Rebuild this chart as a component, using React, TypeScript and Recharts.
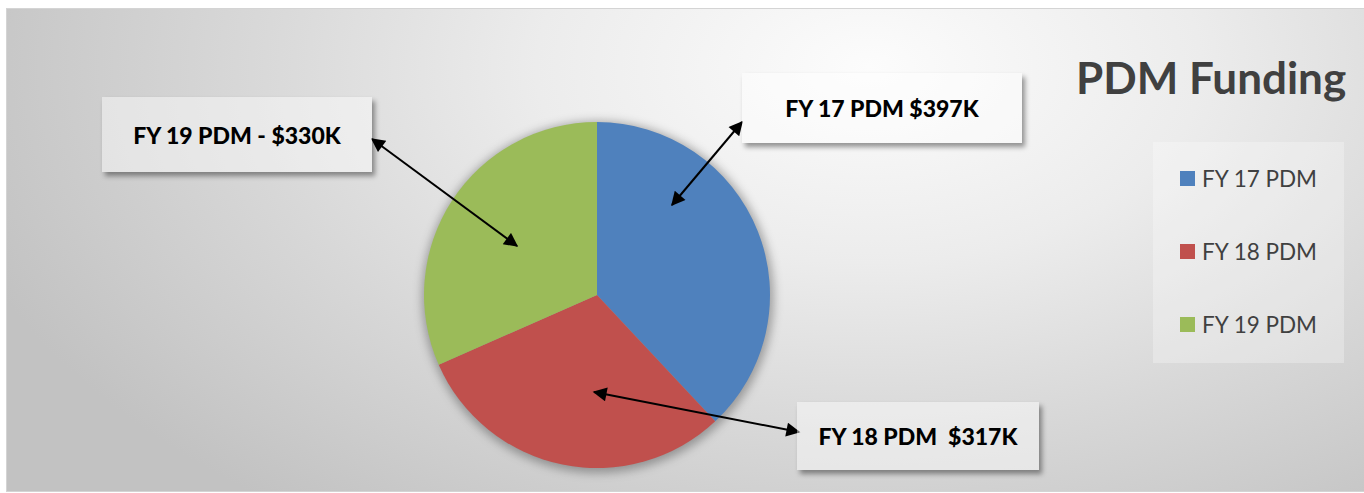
import React from 'react';
import { PieChart, Pie, Cell, Legend } from 'recharts';

const categories = ['FY 17 PDM', 'FY 18 PDM', 'FY 19 PDM'];
const amounts = [397, 317, 330];
const calloutTexts = ['FY 17 PDM $397K', 'FY 18 PDM\u00a0\u00a0$317K', 'FY 19 PDM - $330K'];
const colors = ['#4F81BD', '#C0504D', '#9BBB59'];

const data = categories.map((name, i) => ({ name, value: amounts[i] }));

// callout layout: box rect, arrow tail (at box edge) and tip (offset from pie centre)
const callouts = [
  { box: { x: 742, y: 73, w: 280, h: 70 }, tail: [742, 122], tip: [75, -90] },
  { box: { x: 797, y: 402, w: 242, h: 68 }, tail: [799, 432], tip: [-3, 97] },
  { box: { x: 102, y: 97, w: 270, h: 75 }, tail: [372, 139], tip: [-80, -49] },
];

const font = 'Lato, "Open Sans", sans-serif';

const renderArrow = (props: any) => {
  const { cx, cy, index } = props;
  const c = callouts[index];
  return (
    <line
      key={`arrow-${index}`}
      x1={c.tail[0]}
      y1={c.tail[1]}
      x2={cx + c.tip[0]}
      y2={cy + c.tip[1]}
      stroke="#000"
      strokeWidth={2}
      markerStart="url(#arrowHead)"
      markerEnd="url(#arrowHead)"
    />
  );
};

const renderLegend = (props: any) => {
  const payload = (props.payload || []).filter((p: any) => categories.includes(p.value));
  return (
    <div
      style={{
        width: 191,
        height: 221,
        background: 'rgba(255,255,255,0.28)',
        boxSizing: 'border-box',
        paddingTop: 26,
        paddingLeft: 27,
        fontFamily: font,
      }}
    >
      {payload.map((entry: any, i: number) => (
        <div key={i} style={{ display: 'flex', alignItems: 'center', height: 73 }}>
          <span style={{ width: 15, height: 15, background: entry.color, display: 'inline-block', marginRight: 7, marginTop: -52 }} />
          <span style={{ fontSize: 22.5, color: '#404040', marginTop: -52 }}>{entry.value}</span>
        </div>
      ))}
    </div>
  );
};

export default function App() {
  return (
    <div style={{ position: 'absolute', left: 0, top: 0, width: 1364, height: 493, overflow: 'hidden', background: '#fff' }}>
      <div
        style={{
          position: 'absolute',
          left: 6,
          top: 8,
          width: 1370,
          height: 484,
          boxSizing: 'border-box',
          border: '1px solid #d4d4d4',
          background: 'radial-gradient(ellipse 950px 560px at 63% 12%, #fcfcfc 0%, #ececec 35%, #d8d8d8 65%, #c2c2c2 100%)',
        }}
      />
      <div style={{ position: 'absolute', left: 0, top: 0 }}>
        <PieChart width={1364} height={493} margin={{ top: 0, right: 0, bottom: 0, left: 0 }}>
          <defs>
            <filter id="pieShadow" x="-20%" y="-20%" width="140%" height="140%">
              <feGaussianBlur stdDeviation="5" />
            </filter>
            <marker id="arrowHead" viewBox="0 0 10 10" refX="9" refY="5" markerWidth="8" markerHeight="7" orient="auto-start-reverse" markerUnits="strokeWidth">
              <path d="M0,0 L10,5 L0,10 z" fill="#000" />
            </marker>
          </defs>
          <Pie
            data={[{ name: 'shadow', value: 1 }]}
            dataKey="value"
            cx={598}
            cy={297}
            outerRadius={176}
            isAnimationActive={false}
            stroke="none"
            legendType="none"
          >
            <Cell fill="rgba(0,0,0,0.3)" filter="url(#pieShadow)" />
          </Pie>
          <Pie
            data={data}
            dataKey="value"
            nameKey="name"
            cx={597}
            cy={295}
            outerRadius={173}
            startAngle={90}
            endAngle={-270}
            stroke="none"
            isAnimationActive={false}
            labelLine={false}
            label={renderArrow}
          >
            {data.map((d, i) => (
              <Cell key={d.name} fill={colors[i]} />
            ))}
          </Pie>
          <Legend
            layout="vertical"
            content={renderLegend}
            wrapperStyle={{ position: 'absolute', left: 1153, top: 142, width: 191, height: 221 }}
          />
        </PieChart>
      </div>
      <div
        style={{
          position: 'absolute',
          left: 1076,
          top: 49,
          fontFamily: font,
          fontWeight: 700,
          fontSize: 44,
          color: '#404040',
          whiteSpace: 'nowrap',
          lineHeight: '56px',
        }}
      >
        PDM Funding
      </div>
      {callouts.map((c, i) => (
        <div
          key={i}
          style={{
            position: 'absolute',
            left: c.box.x,
            top: c.box.y,
            width: c.box.w,
            height: c.box.h,
            background: 'rgba(255,255,255,0.45)',
            boxShadow: '3px 4px 5px rgba(0,0,0,0.4)',
            display: 'flex',
            alignItems: 'center',
            justifyContent: 'center',
            fontFamily: font,
            fontWeight: 900,
            fontSize: 23,
            color: '#000',
            whiteSpace: 'nowrap',
          }}
        >
          {calloutTexts[i]}
        </div>
      ))}
    </div>
  );
}
